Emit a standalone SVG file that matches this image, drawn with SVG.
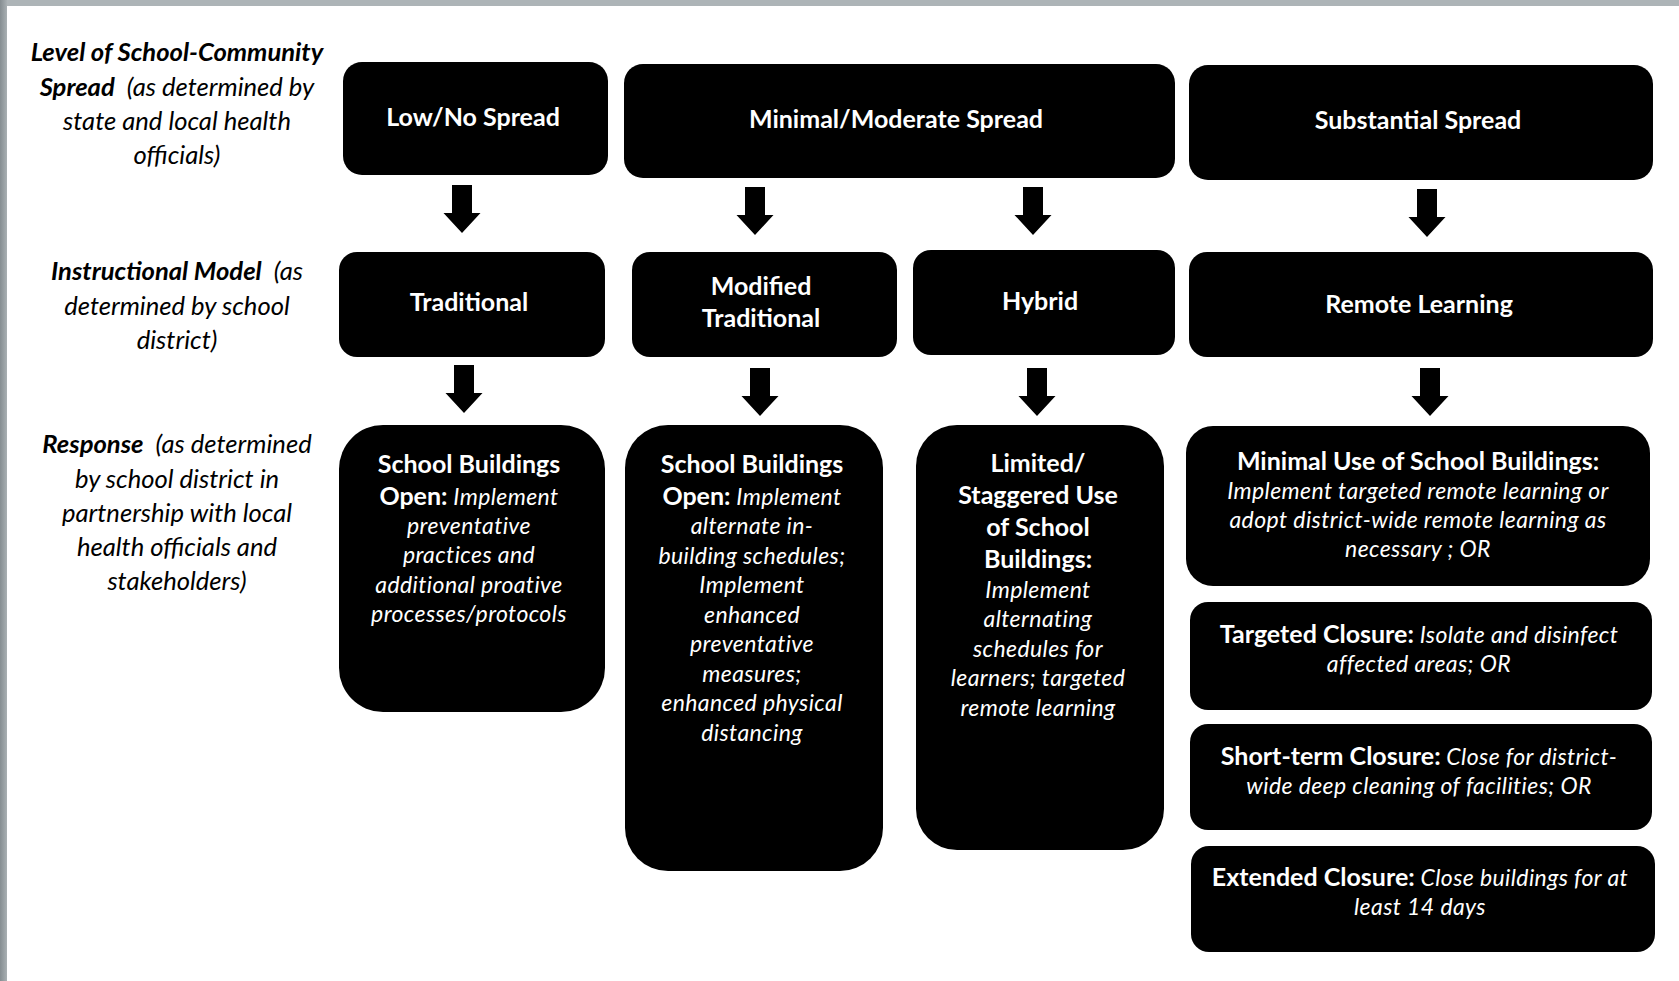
<svg xmlns="http://www.w3.org/2000/svg" xmlns:xlink="http://www.w3.org/1999/xlink" width="1679" height="981" viewBox="0 0 1679 981">
<style>
.box{fill:#000}
.arrow{fill:#000}
.t{font-family:Lato,"Open Sans","Liberation Sans",sans-serif;fill:#fff;text-anchor:middle}
.h{font-size:25px;font-weight:700}
.s{font-size:23px;font-style:italic;font-weight:400;letter-spacing:0.4px}
.sb{font-style:normal;font-weight:700;font-size:25px;letter-spacing:0}
.lbl{font-family:Lato,"Open Sans","Liberation Sans",sans-serif;fill:#000;text-anchor:middle;font-size:25.6px;font-style:italic}
.lb{font-weight:700}
</style>
<defs>
<linearGradient id="edge" x1="0" y1="0" x2="1" y2="0">
<stop offset="0" stop-color="#858d91"/>
<stop offset="1" stop-color="#a9b0b3"/>
</linearGradient>
<path id="arr" d="M-10,0 H10 V28 H18.5 L0,48 L-18.5,28 H-10 Z"/>
</defs>
<rect x="0" y="0" width="1679" height="981" fill="#fff"/>
<rect x="0" y="0" width="1679" height="6" fill="#adb4b7"/>
<rect x="0" y="0" width="7" height="981" fill="url(#edge)"/>

<g id="label-spread">
<text class="lbl" x="177" y="60.5"><tspan class="lb">Level of School-Community</tspan></text>
<text class="lbl" x="177" y="95.5"><tspan class="lb">Spread</tspan><tspan dx="6"> (as determined by</tspan></text>
<text class="lbl" x="177" y="130">state and local health</text>
<text class="lbl" x="177" y="164">officials)</text>
</g>
<g id="label-model">
<text class="lbl" x="177" y="280"><tspan class="lb">Instructional Model</tspan><tspan dx="6"> (as</tspan></text>
<text class="lbl" x="177" y="315">determined by school</text>
<text class="lbl" x="177" y="349">district)</text>
</g>
<g id="label-response">
<text class="lbl" x="177" y="453"><tspan class="lb">Response</tspan><tspan dx="6"> (as determined</tspan></text>
<text class="lbl" x="177" y="488">by school district in</text>
<text class="lbl" x="177" y="522">partnership with local</text>
<text class="lbl" x="177" y="556">health officials and</text>
<text class="lbl" x="177" y="590">stakeholders)</text>
</g>

<g id="low-spread">
<rect class="box" x="343" y="62" width="265" height="113" rx="19"/>
<text class="t h" x="473" y="126">Low/No Spread</text>
</g>
<g id="moderate-spread">
<rect class="box" x="624" y="64" width="551" height="114" rx="19"/>
<text class="t h" x="896" y="128">Minimal/Moderate Spread</text>
</g>
<g id="substantial-spread">
<rect class="box" x="1189" y="65" width="464" height="115" rx="19"/>
<text class="t h" x="1418" y="129">Substantial Spread</text>
</g>

<g id="traditional">
<rect class="box" x="339" y="252" width="266" height="105" rx="18"/>
<text class="t h" x="469" y="311">Traditional</text>
</g>
<g id="modified-traditional">
<rect class="box" x="632" y="252" width="265" height="105" rx="18"/>
<text class="t h" x="761" y="295">Modified</text>
<text class="t h" x="761" y="327">Traditional</text>
</g>
<g id="hybrid">
<rect class="box" x="913" y="250" width="262" height="105" rx="18"/>
<text class="t h" x="1040" y="310">Hybrid</text>
</g>
<g id="remote-learning">
<rect class="box" x="1189" y="252" width="464" height="105" rx="18"/>
<text class="t h" x="1419" y="313">Remote Learning</text>
</g>

<g id="resp-open">
<rect class="box" x="339" y="425" width="266" height="287" rx="44"/>
<text class="t h" x="469" y="473">School Buildings</text>
<text class="t s" x="469" y="505"><tspan class="sb">Open:</tspan> Implement</text>
<text class="t s" x="469" y="534">preventative</text>
<text class="t s" x="469" y="563">practices and</text>
<text class="t s" x="469" y="593">additional proative</text>
<text class="t s" x="469" y="622">processes/protocols</text>
</g>
<g id="resp-open-modified">
<rect class="box" x="625" y="425" width="258" height="446" rx="43"/>
<text class="t h" x="752" y="473">School Buildings</text>
<text class="t s" x="752" y="505"><tspan class="sb">Open:</tspan> Implement</text>
<text class="t s" x="752" y="534">alternate in-</text>
<text class="t s" x="752" y="563.5">building schedules;</text>
<text class="t s" x="752" y="593">Implement</text>
<text class="t s" x="752" y="622.5">enhanced</text>
<text class="t s" x="752" y="652">preventative</text>
<text class="t s" x="752" y="681.5">measures;</text>
<text class="t s" x="752" y="711">enhanced physical</text>
<text class="t s" x="752" y="740.5">distancing</text>
</g>
<g id="resp-limited">
<rect class="box" x="916" y="425" width="248" height="425" rx="41"/>
<text class="t h" x="1038" y="472">Limited/</text>
<text class="t h" x="1038" y="504">Staggered Use</text>
<text class="t h" x="1038" y="536">of School</text>
<text class="t h" x="1038" y="568">Buildings:</text>
<text class="t s" x="1038" y="598">Implement</text>
<text class="t s" x="1038" y="627">alternating</text>
<text class="t s" x="1038" y="657">schedules for</text>
<text class="t s" x="1038" y="686">learners; targeted</text>
<text class="t s" x="1038" y="716">remote learning</text>
</g>
<g id="resp-minimal">
<rect class="box" x="1186" y="426" width="464" height="160" rx="27"/>
<text class="t h" x="1418" y="470">Minimal Use of School Buildings:</text>
<text class="t s" x="1418" y="499">Implement targeted remote learning or</text>
<text class="t s" x="1418" y="528">adopt district-wide remote learning as</text>
<text class="t s" x="1418" y="557">necessary ; OR</text>
</g>
<g id="resp-targeted">
<rect class="box" x="1190" y="602" width="462" height="108" rx="18"/>
<text class="t s" x="1419" y="643"><tspan class="sb">Targeted Closure:</tspan> Isolate and disinfect</text>
<text class="t s" x="1419" y="672">affected areas; OR</text>
</g>
<g id="resp-short">
<rect class="box" x="1190" y="724" width="462" height="106" rx="18"/>
<text class="t s" x="1419" y="765"><tspan class="sb">Short-term Closure:</tspan> Close for district-</text>
<text class="t s" x="1419" y="794">wide deep cleaning of facilities; OR</text>
</g>
<g id="resp-extended">
<rect class="box" x="1191" y="846" width="464" height="106" rx="18"/>
<text class="t s" x="1420" y="886"><tspan class="sb">Extended Closure:</tspan> Close buildings for at</text>
<text class="t s" x="1420" y="915">least 14 days</text>
</g>

<g id="connectors" class="arrow">
<use xlink:href="#arr" x="462" y="185"/>
<use xlink:href="#arr" x="755" y="187"/>
<use xlink:href="#arr" x="1033" y="187"/>
<use xlink:href="#arr" x="1427" y="189"/>
<use xlink:href="#arr" x="464" y="365"/>
<use xlink:href="#arr" x="760" y="368"/>
<use xlink:href="#arr" x="1037" y="368"/>
<use xlink:href="#arr" x="1430" y="368"/>
</g>
</svg>
